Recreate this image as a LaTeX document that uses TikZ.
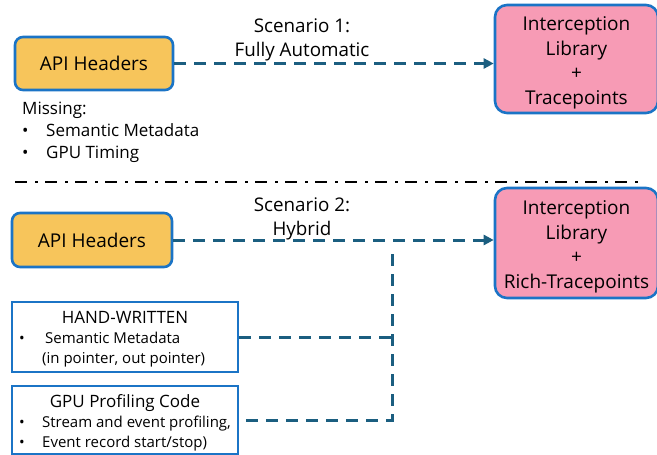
\documentclass[tikz,border=0pt]{standalone}
\usepackage{fontspec}
\setmainfont{Open Sans}
\usetikzlibrary{calc, arrows.meta}
\definecolor{apifill}{HTML}{F7C55B}
\definecolor{libfill}{HTML}{F79BB5}
\definecolor{edgeblue}{HTML}{1B74C6}
\definecolor{flowblue}{HTML}{1B5E80}
\newcommand{\libtop}{\rule{0pt}{22pt}}

\begin{document}
\begin{tikzpicture}[x=1pt, y=-1pt,
    apibox/.style={draw=edgeblue, line width=2.6pt, fill=apifill, rounded corners=8pt,
        minimum width=158pt, minimum height=53pt, font=\fontsize{19}{22}\selectfont},
    libbox/.style={draw=edgeblue, line width=2.6pt, fill=libfill, rounded corners=12pt,
        minimum width=163pt, align=center, font=\fontsize{19}{24.5}\selectfont},
    codebox/.style={draw=edgeblue, line width=2.2pt, fill=white,
        minimum width=226pt},
    flow/.style={draw=flowblue, line width=3pt, dash pattern=on 12pt off 8pt},
    flowarrow/.style={flow, -{Triangle[length=10pt, width=10pt]}},
    lbl/.style={font=\fontsize{18.8}{24}\selectfont, align=center},
    small/.style={font=\fontsize{17}{20}\selectfont, anchor=base west, inner sep=0pt}]
            \useasboundingbox (0,0) rectangle (657,455);
            % scenario 1
            \node[apibox] (api1) at (94,63.5) {API Headers};
            \node[libbox, minimum height=108pt] (lib1) at (576.5,59) {\libtop Interception\\Library\\+\\Tracepoints};
            \draw[flowarrow] (api1.east) -- (lib1.west |- api1.east);
            \node[lbl] (scen1) at (302,40) {Scenario 1:\\Fully Automatic};
            \node[small] (miss) at (22,114) {Missing:};
            \node[small] (miss1) at (22,136) {\makebox[24pt][l]{\textbullet}Semantic Metadata};
            \node[small] (miss2) at (22,158) {\makebox[24pt][l]{\textbullet}GPU Timing};
            % separator
            \coordinate (sepl) at (15,182);
            \coordinate (sepr) at (641,182);
            \draw[line width=2.6pt, dash pattern=on 12pt off 8pt on 3pt off 7pt] (sepl) -- (sepr);
            % scenario 2
            \node[apibox, minimum width=160pt, minimum height=54pt] (api2) at (92,240) {API Headers};
            \node[libbox, minimum height=110pt] (lib2) at (576.5,243) {\libtop Interception\\Library\\+\\Rich-Tracepoints};
            \node[lbl] (scen2) at (302,219) {Scenario 2:\\Hybrid};
            \draw[flowarrow] (api2.east) -- (lib2.west |- api2.east);
            \coordinate (junc) at (392,246);
            \node[codebox, minimum height=70pt] (hand) at (125,337) {};
            \node[codebox, minimum height=68pt] (gpu) at (125,420) {};
            \node[small, anchor=base] (handt) at (125,323) {HAND-WRITTEN};
            \node[small, font=\fontsize{15}{18}\selectfont] (hand1) at (19,343) {\makebox[26pt][l]{\textbullet}Semantic Metadata};
            \node[small, font=\fontsize{15}{18}\selectfont] (hand2) at (42,363) {(in pointer, out pointer)};
            \node[small, anchor=base] (gput) at (125,407) {GPU Profiling Code};
            \node[small, font=\fontsize{15}{18}\selectfont] (gpu1) at (19,427) {\makebox[23pt][l]{\textbullet}Stream and event profiling,};
            \node[small, font=\fontsize{15}{18}\selectfont] (gpu2) at (19,447) {\makebox[23pt][l]{\textbullet}Event record start/stop)};
            \draw[flow] (hand.east) -- (hand.east -| junc);
            \draw[flow] ([xshift=7pt]gpu.east) -- (gpu.east -| junc) -- (junc);
        \end{tikzpicture}
\end{document}
